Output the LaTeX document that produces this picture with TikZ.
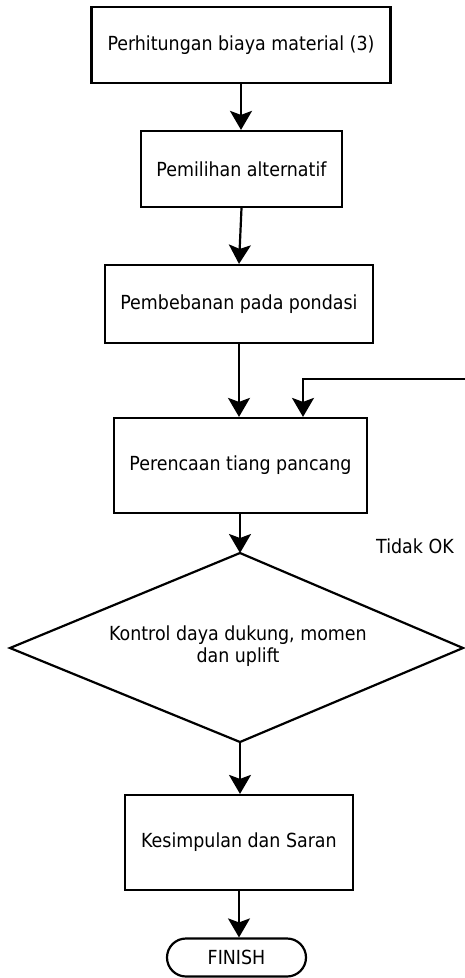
\documentclass[tikz,border=0pt]{standalone}
\usepackage{fontspec}
\setmainfont{DejaVu Sans Condensed}
\usetikzlibrary{arrows.meta}
\begin{document}
\begin{tikzpicture}[x=1pt,y=-1pt,
  every node/.style={font=\fontsize{19.4}{22}\selectfont, text=black},
  proc/.style={draw, line width=2.2pt, inner sep=0pt, anchor=center},
  term/.style={draw, line width=2.2pt, rounded corners=19pt, inner sep=0pt},
  edge/.style={line width=2.2pt, line join=miter},
  flow/.style={line width=2.2pt, -{Stealth[length=19pt,width=22pt,inset=4pt]}},
  lbl/.style={inner sep=0pt, align=center}]
\useasboundingbox (0,0) rectangle (464,978);
\node[proc, minimum width=299pt, minimum height=76pt] (b1) at (241,45) {Perhitungan biaya material (3)};
\node[proc, minimum width=201pt, minimum height=76pt] (b2) at (241.5,169) {Pemilihan alternatif};
\node[proc, minimum width=268pt, minimum height=78pt] (b3) at (239,304) {Pembebanan pada pondasi};
\node[proc, minimum width=253pt, minimum height=95pt] (b4) at (240.5,465.5) {Perencaan tiang pancang};
\coordinate (dT) at (240,553);
\coordinate (dR) at (463,648);
\coordinate (dB) at (240,742);
\coordinate (dL) at (10,648);
\draw[edge] (dT) -- (dR) -- (dB) -- (dL) -- cycle;
\node[lbl] (d1) at (238,646) {Kontrol daya dukung, momen\\dan uplift};
\node[proc, minimum width=228pt, minimum height=95pt] (b5) at (239,842.5) {Kesimpulan dan Saran};
\node[term, minimum width=139pt, minimum height=38pt] (fin) at (236.5,957.5) {FINISH};
\node[lbl] (tok) at (415,546) {Tidak OK};
\coordinate (fbA) at (468,379);
\coordinate (fbB) at (303,379);
\draw[flow] (b1.south) -- (b2.north -| b1.south);
\draw[flow] (b2.south) -- (b3.north);
\draw[flow] (b3.south) -- (b4.north -| b3.south);
\draw[flow] (fbA) -- (fbB) -- (fbB |- b4.north);
\draw[flow] (b4.south -| dT) -- (dT);
\draw[flow] (dB) -- (b5.north -| dB);
\draw[flow] (b5.south) -- (fin.north -| b5.south);
\end{tikzpicture}
\end{document}
